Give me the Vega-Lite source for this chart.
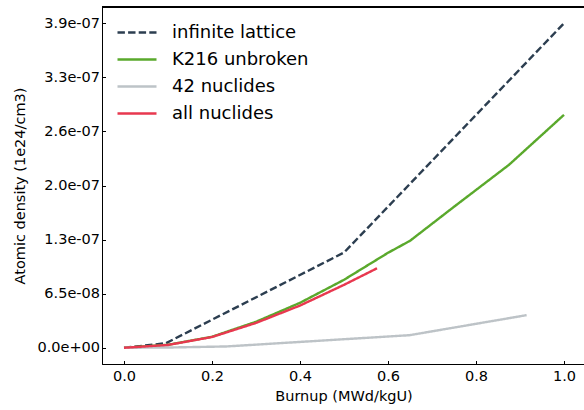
{
  "$schema": "https://vega.github.io/schema/vega-lite/v6.json",
  "autosize": "none",
  "padding": {"left": 102, "top": 7, "right": -1, "bottom": 46},
  "width": 483,
  "height": 357,
  "background": "white",
  "config": {
    "font": "DejaVu Sans",
    "view": {"stroke": "#000000", "strokeWidth": 1},
    "axis": {"grid": false, "domainColor": "#000000", "domainWidth": 1, "tickColor": "#000000", "tickWidth": 1, "labelColor": "#000000", "titleColor": "#000000", "labelFontSize": 14.5, "titleFontSize": 14.5, "titleFontWeight": "normal", "labelFont": "DejaVu Sans", "titleFont": "DejaVu Sans"}
  },
  "data": {"values": [
    {"x": 0.0, "y": 0.0, "s": "infinite lattice"},
    {"x": 0.095, "y": 5.5e-9, "s": "infinite lattice"},
    {"x": 0.5, "y": 1.15e-7, "s": "infinite lattice"},
    {"x": 1.0, "y": 3.92e-7, "s": "infinite lattice"},
    {"x": 0.0, "y": 0.0, "s": "K216 unbroken"},
    {"x": 0.1, "y": 3.6e-9, "s": "K216 unbroken"},
    {"x": 0.2, "y": 1.33e-8, "s": "K216 unbroken"},
    {"x": 0.3, "y": 3.14e-8, "s": "K216 unbroken"},
    {"x": 0.4, "y": 5.43e-8, "s": "K216 unbroken"},
    {"x": 0.5, "y": 8.21e-8, "s": "K216 unbroken"},
    {"x": 0.6, "y": 1.147e-7, "s": "K216 unbroken"},
    {"x": 0.65, "y": 1.292e-7, "s": "K216 unbroken"},
    {"x": 0.75, "y": 1.703e-7, "s": "K216 unbroken"},
    {"x": 0.875, "y": 2.21e-7, "s": "K216 unbroken"},
    {"x": 1.0, "y": 2.814e-7, "s": "K216 unbroken"},
    {"x": 0.0, "y": 0.0, "s": "42 nuclides"},
    {"x": 0.1, "y": 3e-10, "s": "42 nuclides"},
    {"x": 0.233, "y": 1.6e-9, "s": "42 nuclides"},
    {"x": 0.649, "y": 1.52e-8, "s": "42 nuclides"},
    {"x": 0.915, "y": 3.94e-8, "s": "42 nuclides"},
    {"x": 0.0, "y": 0.0, "s": "all nuclides"},
    {"x": 0.1, "y": 3.4e-9, "s": "all nuclides"},
    {"x": 0.2, "y": 1.3e-8, "s": "all nuclides"},
    {"x": 0.3, "y": 3.0e-8, "s": "all nuclides"},
    {"x": 0.4, "y": 5.1e-8, "s": "all nuclides"},
    {"x": 0.5, "y": 7.6e-8, "s": "all nuclides"},
    {"x": 0.575, "y": 9.6e-8, "s": "all nuclides"}
  ]},
  "layer": [
    {
      "mark": {"type": "line", "strokeWidth": 2.4, "strokeCap": "butt"},
      "encoding": {
        "x": {"field": "x", "type": "quantitative", "scale": {"domain": [-0.05, 1.0477], "nice": false, "zero": false},
              "axis": {"title": "Burnup (MWd/kgU)", "values": [0, 0.2, 0.4, 0.6, 0.8, 1.0], "format": ".1f", "tickSize": -3.5, "labelPadding": 9, "titlePadding": 6}},
        "y": {"field": "y", "type": "quantitative", "scale": {"domain": [-1.96e-8, 4.116e-7], "nice": false, "zero": false},
              "axis": {"title": "Atomic density (1e24/cm3)", "values": [0, 6.5333e-8, 1.30667e-7, 1.96e-7, 2.61333e-7, 3.26667e-7, 3.92e-7],
                       "labelExpr": "replace(replace(format(datum.value, '.1e'), 'e-', 'e-0'), 'e+', 'e+0')", "tickSize": -3.5, "labelPadding": 6, "titlePadding": 9}},
        "color": {"field": "s", "type": "nominal", "sort": ["infinite lattice", "K216 unbroken", "42 nuclides", "all nuclides"],
                  "scale": {"domain": ["infinite lattice", "K216 unbroken", "42 nuclides", "all nuclides"], "range": ["#2c3e50", "#5aa92c", "#bdc3c7", "#e8384f"]},
                  "legend": {"title": null, "orient": "none", "legendX": 23.5, "legendY": 14, "symbolType": "M-1.95,0H1.95", "symbolSize": 400, "symbolStrokeWidth": 2.4, "labelFontSize": 18, "labelFont": "DejaVu Sans", "labelColor": "#000000", "labelOffset": 23.5, "rowPadding": 6, "padding": 0}},
        "strokeDash": {"field": "s", "type": "nominal", "sort": ["infinite lattice", "K216 unbroken", "42 nuclides", "all nuclides"],
                  "scale": {"domain": ["infinite lattice", "K216 unbroken", "42 nuclides", "all nuclides"], "range": [[7.4, 3.2], [1, 0], [1, 0], [1, 0]]},
                  "legend": {"title": null, "orient": "none", "legendX": 23.5, "legendY": 14, "symbolType": "M-1.95,0H1.95", "symbolSize": 400, "symbolStrokeWidth": 2.4, "labelFontSize": 18, "labelFont": "DejaVu Sans", "labelColor": "#000000", "labelOffset": 23.5, "rowPadding": 6, "padding": 0}},
        "order": {"field": "x", "type": "quantitative"}
      }
    },
    {
      "mark": {"type": "rule", "stroke": "#000000", "strokeWidth": 1},
      "encoding": {
        "y": {"datum": 4.112e-7, "type": "quantitative"}
      }
    }
  ]
}
